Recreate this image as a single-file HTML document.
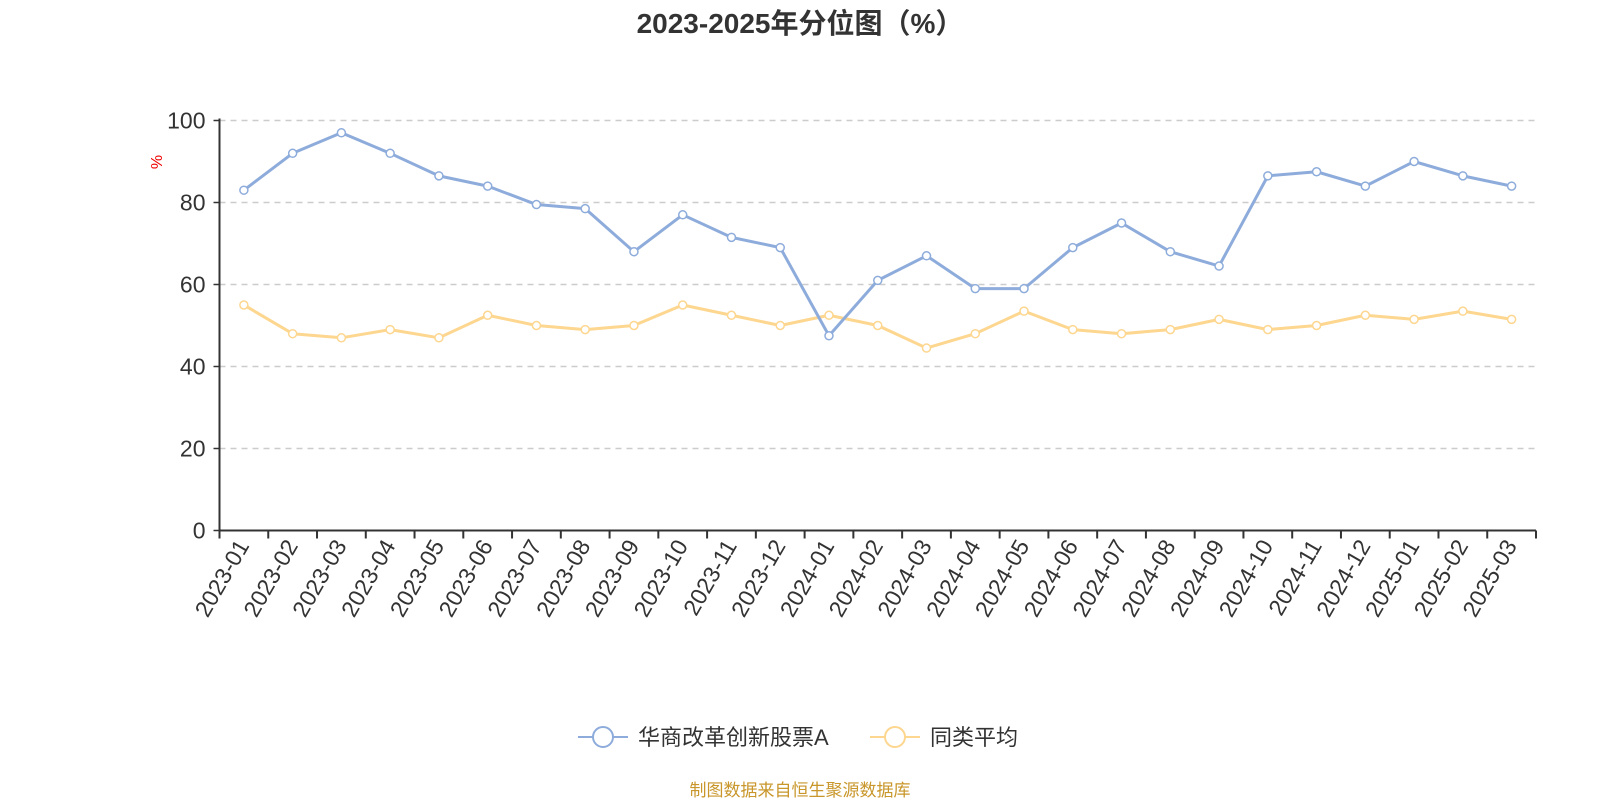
<!DOCTYPE html>
<html><head><meta charset="utf-8"><style>
body{margin:0;background:#fff;width:1600px;height:800px;overflow:hidden;font-family:"Liberation Sans","Noto Sans CJK SC",sans-serif}
</style></head><body>
<svg id="c" width="1600" height="800" xmlns="http://www.w3.org/2000/svg" font-family="Liberation Sans, Noto Sans CJK SC, sans-serif">
<text x="800" y="33" text-anchor="middle" font-size="28" font-weight="bold" fill="#333">2023-2025年分位图（%）</text>
<text transform="translate(162,162) rotate(-90)" text-anchor="middle" font-size="16" fill="#e00">%</text>
<g id="grid"></g><g id="axes"></g><g id="series"></g>
<g>
<g>
<line x1="578" y1="737" x2="628" y2="737" stroke="#8eacdb" stroke-width="2"/><circle cx="603" cy="737" r="10" fill="#fff" stroke="#8eacdb" stroke-width="2"/>
<text x="638" y="745" font-size="22" fill="#333">华商改革创新股票A</text></g>
<g>
<line x1="870" y1="737" x2="920" y2="737" stroke="#fdd68f" stroke-width="2"/><circle cx="895" cy="737" r="10" fill="#fff" stroke="#fdd68f" stroke-width="2"/>
<text x="930" y="745" font-size="22" fill="#333">同类平均</text></g>
</g>
<text x="800" y="796" text-anchor="middle" font-size="17" fill="#c8962a">制图数据来自恒生聚源数据库</text>
</svg>
<script>
const categories=["2023-01","2023-02","2023-03","2023-04","2023-05","2023-06","2023-07","2023-08","2023-09","2023-10","2023-11","2023-12","2024-01","2024-02","2024-03","2024-04","2024-05","2024-06","2024-07","2024-08","2024-09","2024-10","2024-11","2024-12","2025-01","2025-02","2025-03"];
const fundValues=[83,92,97,92,86.5,84,79.5,78.5,68,77,71.5,69,47.5,61,67,59,59,69,75,68,64.5,86.5,87.5,84,90,86.5,84];
const avgValues=[55,48,47,49,47,52.5,50,49,50,55,52.5,50,52.5,50,44.5,48,53.5,49,48,49,51.5,49,50,52.5,51.5,53.5,51.5];
const yTicks=[0,20,40,60,80,100];
const NS="http://www.w3.org/2000/svg";
const L=219.5,R=1536,T=120.5,B=530.5;
const bw=(R-L)/categories.length;
const xs=i=>L+bw*(i+0.5);
const ys=v=>B-(v/100)*(B-T);
function mk(tag,attrs,parent){const e=document.createElementNS(NS,tag);for(const k in attrs)e.setAttribute(k,attrs[k]);parent.appendChild(e);return e;}
const grid=document.getElementById('grid'),axes=document.getElementById('axes'),ser=document.getElementById('series');
yTicks.forEach(v=>{
 if(v>0){const g=mk('line',{x1:L,x2:R,y1:ys(v),y2:ys(v),stroke:'#ccc','stroke-dasharray':'6,5','stroke-width':1.5},grid);
 
 }
 const t=mk('text',{x:L-14,y:ys(v)+8,'text-anchor':'end','font-size':23,fill:'#333'},axes);t.textContent=v;
 
 
 mk('line',{x1:L-6,x2:L,y1:ys(v),y2:ys(v),stroke:'#333','stroke-width':1.5},axes);
});
const ya=mk('line',{x1:L,x2:L,y1:T-2,y2:B,stroke:'#333','stroke-width':2},axes);


const xa=mk('line',{x1:L,x2:R,y1:B,y2:B,stroke:'#333','stroke-width':2},axes);


for(let i=0;i<=categories.length;i++)mk('line',{x1:L+bw*i,x2:L+bw*i,y1:B,y2:B+8,stroke:'#333','stroke-width':2},axes);
categories.forEach((c,i)=>{
 const x=xs(i)+6,y=B+15;
 const t=mk('text',{x:x,y:y,'text-anchor':'end','font-size':23,fill:'#333',transform:`rotate(-60 ${x} ${y})`},axes);t.textContent=c;
 
 
});
function draw(vals,color,name){
 const p=mk('polyline',{points:vals.map((v,i)=>xs(i)+','+ys(v)).join(' '),fill:'none',stroke:color,'stroke-width':3,'stroke-linejoin':'round'},ser);
 
 
 vals.forEach((v,i)=>{const c=mk('circle',{cx:xs(i),cy:ys(v),r:4,fill:'#fff',stroke:color,'stroke-width':1.5},ser);
 
 });
}
draw(avgValues,'#fdd68f','average');
draw(fundValues,'#8eacdb','fund');
</script>
</body></html>
